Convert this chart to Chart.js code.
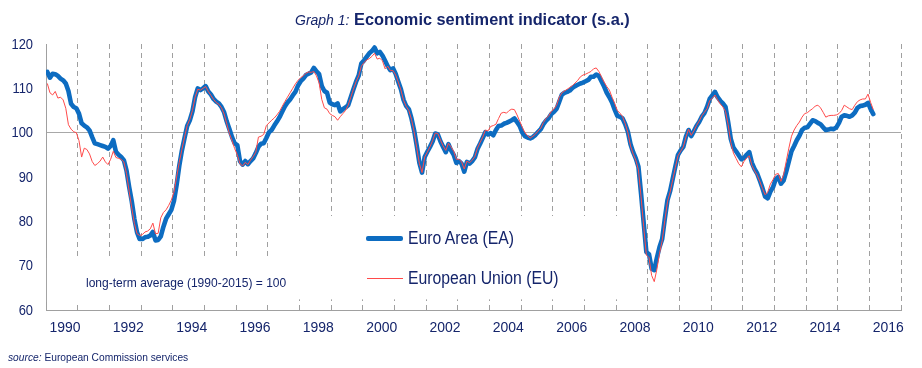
<!DOCTYPE html>
<html><head><meta charset="utf-8">
<script src="https://cdn.jsdelivr.net/npm/chart.js@4.4.1/dist/chart.umd.min.js"></script>
<style>
html,body{margin:0;padding:0;background:#fff;}
#wrap{position:relative;width:922px;height:368px;overflow:hidden;background:#fff;}
canvas{position:absolute;left:0;top:0;}
.t{position:absolute;white-space:nowrap;color:#15256b;font-family:'Liberation Sans',Arial,sans-serif;line-height:1;transform-origin:0 0;}
.ln{position:absolute;}
</style></head><body>
<div id="wrap">
<canvas id="c" width="922" height="368"></canvas>
<div class="t" id="title" style="left:295px;top:11px;"><span style="font-style:italic;font-size:14px">Graph 1:</span> <span style="display:inline-block;font-weight:bold;font-size:17px;transform:scaleX(0.96);transform-origin:0 0">Economic sentiment indicator (s.a.)</span></div>
<div class="t" style="left:86px;top:275.5px;font-size:13px;transform:scaleX(0.925)">long-term average (1990-2015) = 100</div>
<div class="ln" style="left:366px;top:236px;width:37px;height:4.5px;background:#0d6cc1;border-radius:2px"></div>
<div class="t" style="left:408px;top:230px;font-size:17.5px;transform:scaleX(0.9)">Euro Area (EA)</div>
<div class="ln" style="left:367px;top:277.5px;width:36px;height:1px;background:#ff4a4a"></div>
<div class="t" style="left:408px;top:270px;font-size:17.5px;transform:scaleX(0.9)">European Union (EU)</div>
<div class="t" style="left:8px;top:352px;font-size:11px;transform:scaleX(0.93)"><i>source:</i> European Commission services</div>
</div>
<script>
// ---- data ----
const startYear = 1990;
const yearLabels = ['1990','1992','1994','1996','1998','2000','2002','2004','2006','2008','2010','2012','2014','2016'];
const yTicks = [60,70,80,90,100,110,120];
const euroArea = [
 113.7,112.4,113.3,113.2,112.8,112.2,111.8,111.1,109.4,106.5,105.8,105.5, // 1990
 104.3,102.1,101.6,101.2,100.5,99.0,97.6,97.4,97.2,97.0,96.8,96.4,        // 1991
 97.0,98.3,95.7,95.0,94.5,93.8,91.5,87.8,84.5,80.5,77.5,76.0,            // 1992
 76.0,76.4,76.5,76.8,77.6,75.7,75.8,76.6,78.8,80.6,81.6,82.6,            // 1993
 84.6,88.2,92.5,96.0,98.8,101.5,102.8,104.8,108.0,110.0,109.6,110.0,     // 1994
 110.5,109.3,108.6,107.6,107.0,106.6,105.8,104.6,102.5,100.8,99.0,97.6,  // 1995
 97.2,93.6,92.8,93.6,92.9,93.6,94.2,95.4,96.8,97.5,97.6,98.8,            // 1996
 100.1,100.6,101.6,102.5,103.5,104.7,105.9,106.8,107.5,108.4,109.2,110.6,// 1997
 111.6,112.2,113.0,113.3,113.6,114.6,113.8,113.2,110.5,109.4,109.0,106.8,// 1998
 106.4,106.2,106.6,104.8,105.3,105.7,106.2,108.0,109.8,111.5,112.9,115.6,// 1999
 116.3,117.1,117.9,118.4,119.2,117.9,118.2,117.4,116.2,115.0,114.1,114.5,// 2000
 113.3,111.5,109.8,107.4,106.0,105.3,103.2,100.5,97.0,93.2,91.0,94.5,    // 2001
 95.7,96.8,98.0,99.8,99.6,98.0,96.8,95.6,97.4,96.0,95.0,93.2,            // 2002
 93.6,93.0,91.2,93.4,93.0,93.6,94.4,96.3,97.5,98.8,100.1,99.6,           // 2003
 99.9,99.4,100.6,101.5,101.6,102.0,102.2,102.5,102.8,103.2,102.4,101.5,  // 2004
 100.0,99.2,98.9,98.7,99.0,99.5,100.2,100.8,101.9,102.7,103.3,104.2,     // 2005
 104.7,105.4,107.0,108.6,109.0,109.2,109.5,110.1,110.5,110.8,111.1,111.3,// 2006
 111.6,111.9,112.6,112.6,113.1,112.8,111.6,110.4,109.0,108.0,106.8,105.2,// 2007
 103.8,103.6,103.2,101.9,100.2,97.4,95.6,94.2,92.3,86.2,79.6,73.1,       // 2008
 72.6,69.3,69.0,71.8,74.2,76.0,80.6,84.8,86.8,89.6,92.4,95.0,            // 2009
 96.0,96.8,99.1,100.6,99.2,100.3,101.5,102.4,103.6,104.4,105.8,107.6,    // 2010
 108.4,109.2,108.0,107.2,106.6,105.8,102.4,98.6,96.6,95.8,94.9,94.0,     // 2011
 94.3,95.0,95.6,93.2,91.8,90.8,89.2,87.5,85.6,85.2,86.7,87.7,            // 2012
 89.5,90.0,88.5,89.2,91.2,93.5,95.8,97.0,98.3,99.3,100.6,101.1,          // 2013
 101.2,102.0,102.8,102.6,102.2,101.9,101.2,100.6,100.7,100.9,100.8,101.2,// 2014
 102.2,103.6,103.9,103.8,103.6,103.9,104.5,105.6,106.0,106.1,106.3,106.7,// 2015
 105.3,104.2                                                             // 2016
];
const europeanUnion = [
 111.1,109.0,108.5,109.3,107.8,108.0,107.4,105.5,101.8,100.8,100.2,100.0, // 1990
 98.2,94.5,96.5,96.2,95.2,93.5,92.6,93.0,93.6,94.5,93.4,92.8,            // 1991
 94.0,95.8,94.4,94.2,94.0,93.4,90.8,86.8,83.0,79.5,77.2,76.8,            // 1992
 77.0,77.6,77.8,78.3,79.6,77.2,77.3,80.8,82.0,82.6,83.6,84.8,            // 1993
 86.6,90.0,93.3,96.2,99.0,101.6,103.0,105.0,108.0,109.8,109.6,110.0,     // 1994
 110.4,109.3,108.4,107.5,106.8,106.4,105.6,104.2,102.0,99.8,98.2,96.4,   // 1995
 95.0,93.0,92.5,93.3,92.8,93.8,94.6,95.6,99.0,99.2,99.6,101.6,           // 1996
 102.2,102.8,103.3,104.0,104.8,105.9,107.0,108.0,109.0,110.0,111.0,111.8,// 1997
 112.4,112.8,113.4,113.7,113.6,113.8,112.8,111.2,107.5,105.6,105.3,104.3,// 1998
 103.9,103.6,102.8,103.6,104.3,105.0,106.2,108.0,109.8,111.5,112.8,115.0,// 1999
 115.8,116.4,116.7,117.2,117.9,116.6,116.8,116.2,114.4,115.0,114.0,114.0,// 2000
 113.0,111.4,109.6,107.3,105.9,105.0,103.0,100.2,96.6,93.0,91.0,94.5,    // 2001
 95.6,96.8,98.2,99.9,99.8,98.3,97.0,96.0,97.6,96.8,95.8,94.0,            // 2002
 94.0,93.4,91.8,93.6,93.2,93.8,94.6,96.5,97.8,99.0,100.6,100.4,          // 2003
 101.4,101.6,101.9,103.2,104.4,104.6,104.4,105.0,105.3,105.2,104.0,102.6,// 2004
 101.2,100.0,99.3,98.8,99.2,99.7,100.4,101.0,102.3,103.2,103.8,104.8,    // 2005
 105.3,106.2,108.0,109.0,109.4,109.8,110.2,110.6,111.2,111.8,112.6,113.0,// 2006
 113.2,113.5,113.8,114.4,114.6,113.8,112.6,111.4,110.4,109.6,108.0,106.6,// 2007
 105.0,104.4,103.6,102.0,100.0,97.0,95.2,93.8,91.6,85.5,78.8,72.4,       // 2008
 71.8,67.8,66.4,69.2,72.8,75.6,80.2,84.4,86.6,89.4,92.2,94.8,            // 2009
 95.8,96.8,99.0,100.8,99.4,100.4,101.6,102.6,103.8,104.6,105.4,107.2,    // 2010
 107.8,108.5,107.4,106.5,105.8,104.8,101.8,97.8,95.4,94.2,93.0,92.3,     // 2011
 93.5,94.3,94.8,92.6,91.4,90.4,89.0,87.4,86.0,86.6,88.4,89.4,            // 2012
 90.6,90.8,89.0,90.5,93.5,96.5,99.2,100.6,101.6,102.4,103.5,104.3,       // 2013
 104.5,105.0,105.4,106.0,106.2,105.6,104.6,103.5,103.8,103.9,103.9,104.0,// 2014
 104.3,105.0,106.2,105.8,105.4,105.2,106.2,107.0,107.4,107.6,107.6,108.7,// 2015
 106.8,105.2                                                             // 2016
];

const navy = '#15256b';
const fam = "'Liberation Sans',Arial,sans-serif";
const toPts = arr => arr.map((v, i) => ({x: startYear + (i + 0.5) / 12, y: v}));
const gridYears = [];
for (let y = 1990; y <= 2017; y++) gridYears.push(y);

// white boxes behind the legend and the note (hide the dashed grid there)
const maskBoxes = {
  id: 'maskBoxes',
  beforeDatasetsDraw(chart) {
    const {ctx, scales: {x, y}} = chart;
    ctx.save();
    ctx.fillStyle = '#ffffff';
    const box = (x0, x1, y0, y1) => {
      const l = x.getPixelForValue(x0), r = x.getPixelForValue(x1);
      const t = y.getPixelForValue(y0), b = y.getPixelForValue(y1);
      ctx.fillRect(l, t, r - l, b - t);
    };
    box(1990.03, 1997.5, 71.7, 61.8);
    box(1997.5, 2008.4, 81.2, 62.4);
    ctx.restore();
  }
};

// condensed tick labels placed with the chart's own scales
const tickText = {
  id: 'tickText',
  afterDraw(chart) {
    const {ctx, scales: {x, y}} = chart;
    ctx.save();
    ctx.fillStyle = navy;
    ctx.font = '15px ' + fam;
    ctx.textAlign = 'right';
    ctx.textBaseline = 'middle';
    const yr = x.left - 13;
    yTicks.forEach(v => {
      ctx.save();
      ctx.translate(yr, y.getPixelForValue(v) + 0.5);
      ctx.scale(0.86, 1);
      ctx.fillText(String(v), 0, 0);
      ctx.restore();
    });
    ctx.font = '15.5px ' + fam;
    ctx.textAlign = 'center';
    const ly = y.bottom + 18;
    yearLabels.forEach(l => {
      ctx.save();
      ctx.translate(x.getPixelForValue(Number(l) + 0.6), ly);
      ctx.scale(0.9, 1);
      ctx.fillText(l, 0, 0);
      ctx.restore();
    });
    ctx.restore();
  }
};

new Chart(document.getElementById('c'), {
  type: 'line',
  data: {
    datasets: [
      {label: 'Euro Area (EA)', data: toPts(euroArea), borderColor: '#0d6cc1', borderWidth: 4.6,
       pointRadius: 0, tension: 0, order: 2, borderJoinStyle: 'round', borderCapStyle: 'round'},
      {label: 'European Union (EU)', data: toPts(europeanUnion), borderColor: '#ff4a4a', borderWidth: 1,
       pointRadius: 0, tension: 0, order: 1}
    ]
  },
  options: {
    responsive: false, animation: false, devicePixelRatio: 1,
    layout: {padding: {left: 0, right: 21, top: 44, bottom: 0}},
    plugins: {legend: {display: false}, tooltip: {enabled: false}, title: {display: false}},
    scales: {
      x: {
        type: 'linear', min: 1990, max: 2017,
        afterFit(s) { s.height = 58; },
        afterBuildTicks(s) { s.ticks = gridYears.map(v => ({value: v})); },
        ticks: {display: false, autoSkip: false, maxRotation: 0, minRotation: 0},
        grid: {color: '#a0a0a0', lineWidth: 1, drawTicks: false},
        border: {display: true, color: '#a0a0a0', width: 1, dash: [5, 4]}
      },
      y: {
        min: 60, max: 120,
        afterFit(s) { s.width = 46; },
        afterBuildTicks(s) { s.ticks = yTicks.map(v => ({value: v})); },
        ticks: {display: false},
        grid: {drawTicks: false, lineWidth: 1, color: c => (c.tick && c.tick.value === 100) ? '#a8a8a8' : 'rgba(0,0,0,0)'},
        border: {display: true, color: '#a0a0a0', width: 1}
      }
    }
  },
  plugins: [maskBoxes, tickText]
});
</script>
</body></html>
